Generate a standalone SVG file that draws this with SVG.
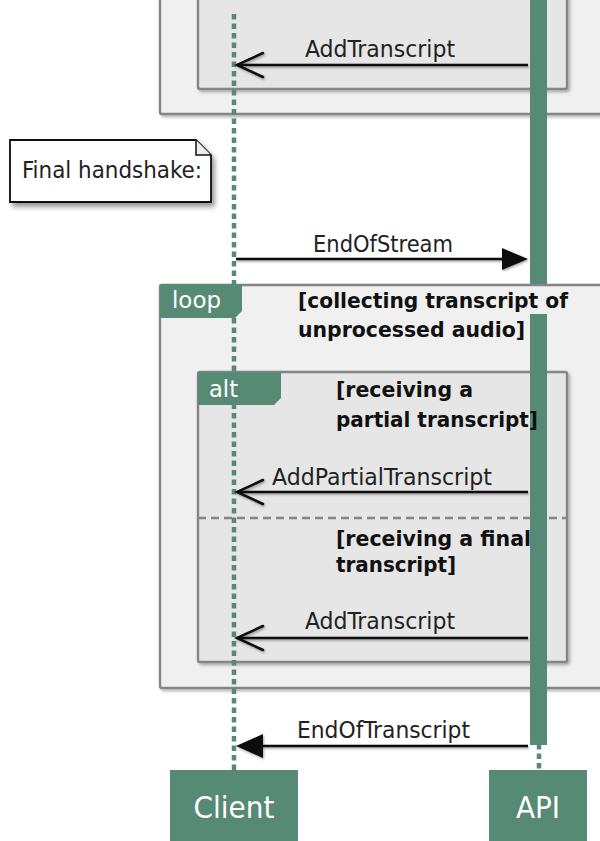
<svg xmlns="http://www.w3.org/2000/svg" width="600" height="841" viewBox="0 0 600 841">
<style>
.t{font-family:"DejaVu Sans Condensed","DejaVu Sans",sans-serif;font-stretch:condensed;fill:#222}
.msg{font-size:23.5px}
.cond{font-size:22px;font-weight:bold;fill:#111}
.tab{font-size:23px;fill:#fff}
.part{font-size:31px;fill:#fff}
.frame1{fill:#f0f0f0;stroke:#858585;stroke-width:2.4}
.frame2{fill:#e6e6e6;stroke:#858585;stroke-width:2.4}
.green{fill:#578a74}
.life{stroke:#578a74;stroke-width:4.5;stroke-dasharray:5.5 4;fill:none}
.arr{stroke:#111;stroke-width:2.5;fill:none}
.head{stroke:#111;stroke-width:2.5;fill:none;stroke-linecap:round;stroke-linejoin:miter}
</style>
<defs>
<filter id="sh" x="-10%" y="-10%" width="130%" height="130%"><feDropShadow dx="2" dy="2" stdDeviation="1.5" flood-color="#000" flood-opacity="0.3"/></filter>
<filter id="shn" x="-10%" y="-10%" width="130%" height="140%"><feDropShadow dx="3" dy="4" stdDeviation="2.5" flood-color="#000" flood-opacity="0.4"/></filter>
<filter id="sha" x="-5%" y="-50%" width="110%" height="200%"><feDropShadow dx="1" dy="1.5" stdDeviation="1" flood-color="#000" flood-opacity="0.35"/></filter>
</defs>

<g id="frames">
<rect class="frame1" x="160" y="-20" width="460" height="134" rx="2" filter="url(#sh)"/>
<rect class="frame2" x="198" y="-20" width="369" height="109" rx="2" filter="url(#sh)"/>
<rect id="loop-frame" class="frame1" x="160" y="285" width="460" height="403" rx="2" filter="url(#sh)"/>
<rect id="alt-frame" class="frame2" x="198" y="372" width="369" height="290" rx="2" filter="url(#sh)"/>
<line x1="198" y1="518" x2="567" y2="518" stroke="#858585" stroke-width="2.5" stroke-dasharray="8 5"/>
</g>

<g id="lifelines">
<line class="life" x1="234" y1="14" x2="234" y2="770"/>
<line class="life" x1="539" y1="744" x2="539" y2="770"/>
<rect class="green" x="530" y="-5" width="17" height="289"/>
<rect class="green" x="530" y="314" width="17" height="431"/>
</g>

<g id="loop">
<path class="green" d="M162,284 H242 V311 L235,318 H160 V286 Q160,284 162,284 Z"/>
<text class="t tab" x="172" y="308" textLength="49" lengthAdjust="spacingAndGlyphs">loop</text>
<text class="t cond" x="298" y="308" textLength="270" lengthAdjust="spacingAndGlyphs">[collecting transcript of</text>
<text class="t cond" x="298" y="337" textLength="227" lengthAdjust="spacingAndGlyphs">unprocessed audio]</text>
</g>
<g id="alt">
<path class="green" d="M200,372 H281 V398 L274,405 H198 V374 Q198,372 200,372 Z"/>
<text class="t tab" x="209" y="397" textLength="29" lengthAdjust="spacingAndGlyphs">alt</text>
<text class="t cond" x="336" y="397" textLength="137" lengthAdjust="spacingAndGlyphs">[receiving a</text>
<text class="t cond" x="336" y="427" textLength="202" lengthAdjust="spacingAndGlyphs">partial transcript]</text>
<text class="t cond" x="336" y="546" textLength="195" lengthAdjust="spacingAndGlyphs">[receiving a final</text>
<text class="t cond" x="336" y="572" textLength="120" lengthAdjust="spacingAndGlyphs">transcript]</text>
</g>

<g id="note">
<path d="M10,140 H196 L211,155 V202 H10 Z" fill="#fff" stroke="#111" stroke-width="1.8" filter="url(#shn)"/>
<path d="M196,140 V155 H211" fill="#eee" stroke="#111" stroke-width="1.5"/>
<text class="t msg" x="22" y="178" textLength="180" lengthAdjust="spacingAndGlyphs">Final handshake:</text>
</g>

<g id="connectors">
<g filter="url(#sha)">
<line class="arr" x1="528" y1="65" x2="237" y2="65"/>
<path class="head" d="M263,53 L237,65 L263,77"/>
<line class="arr" x1="236" y1="259" x2="504" y2="259"/>
<path d="M502,248 L528,259 L502,270 Z" fill="#111"/>
<line class="arr" x1="528" y1="492" x2="237" y2="492"/>
<path class="head" d="M263,480 L237,492 L263,504"/>
<line class="arr" x1="528" y1="638" x2="237" y2="638"/>
<path class="head" d="M263,626 L237,638 L263,650"/>
<line class="arr" x1="528" y1="746" x2="260" y2="746"/>
<path d="M263,734 L236,746 L263,758 Z" fill="#111"/>
</g>
<text class="t msg" x="305" y="57" textLength="150" lengthAdjust="spacingAndGlyphs">AddTranscript</text>
<text class="t msg" x="313" y="252" textLength="140" lengthAdjust="spacingAndGlyphs">EndOfStream</text>
<text class="t msg" x="272" y="485" textLength="220" lengthAdjust="spacingAndGlyphs">AddPartialTranscript</text>
<text class="t msg" x="305" y="629" textLength="150" lengthAdjust="spacingAndGlyphs">AddTranscript</text>
<text class="t msg" x="297" y="738" textLength="173" lengthAdjust="spacingAndGlyphs">EndOfTranscript</text>
</g>

<g id="client">
<rect class="green" x="170" y="770" width="128" height="80"/>
<text class="t part" x="234" y="818" text-anchor="middle">Client</text>
</g>
<g id="api">
<rect class="green" x="489" y="770" width="98" height="80"/>
<text class="t part" x="538" y="818" text-anchor="middle">API</text>
</g>
</svg>
